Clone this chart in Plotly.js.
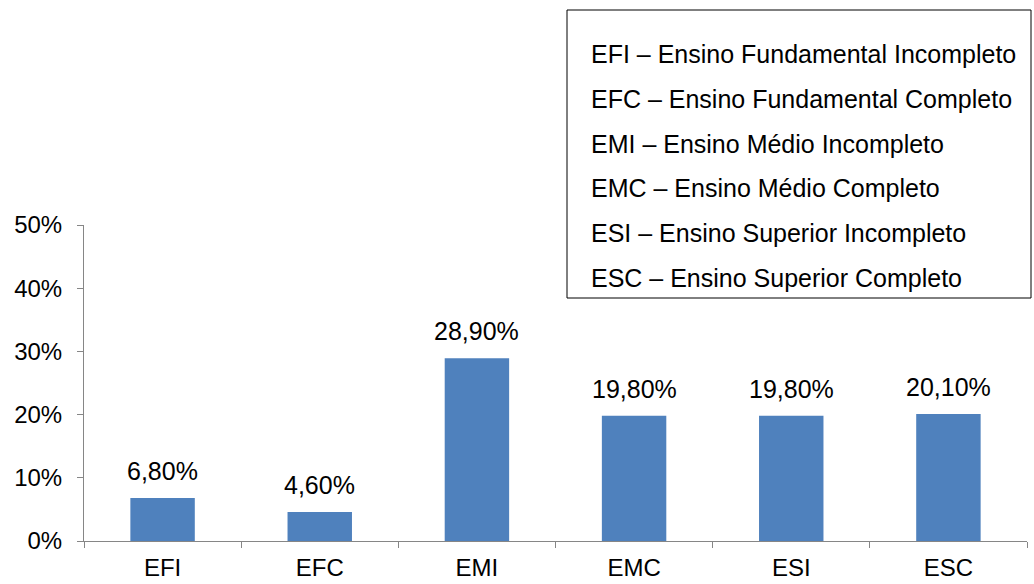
<!DOCTYPE html>
<html>
<head>
<meta charset="utf-8">
<script src="https://cdn.plot.ly/plotly-3.0.1.min.js"></script>
<style>html,body{margin:0;padding:0;background:#fff;}#chart{width:1034px;height:584px;}</style>
</head>
<body>
<div id="chart"></div>
<script>
const categories = ["EFI", "EFC", "EMI", "EMC", "ESI", "ESC"];
const values = [0.068, 0.046, 0.289, 0.198, 0.198, 0.201];
const valueLabels = ["6,80%", "4,60%", "28,90%", "19,80%", "19,80%", "20,10%"];
const yTickVals = [0, 0.1, 0.2, 0.3, 0.4, 0.5];
const yTickText = ["0%", "10%", "20%", "30%", "40%", "50%"];
const legendLines = [
  "EFI – Ensino Fundamental Incompleto",
  "EFC – Ensino Fundamental Completo",
  "EMI – Ensino Médio Incompleto",
  "EMC – Ensino Médio Completo",
  "ESI – Ensino Superior Incompleto",
  "ESC – Ensino Superior Completo"
];

const W = 1034, H = 584;
const M = {l: 84, r: 7, t: 225, b: 43};
const pw = W - M.l - M.r, ph = H - M.t - M.b;
const px2x = p => (p - M.l) / pw;
const py2y = p => (H - M.b - p) / ph;
const FONT = "Arial, 'Liberation Sans', sans-serif";

const annotations = categories.map((c, i) => ({
  x: c, y: values[i], xref: 'x', yref: 'y',
  text: valueLabels[i], showarrow: false,
  yanchor: 'bottom', xanchor: 'center', yshift: 11,
  font: {family: FONT, size: 25, color: '#000'}
}));
legendLines.forEach((t, i) => {
  annotations.push({
    x: px2x(589), y: py2y(54 + 44.8 * i), xref: 'paper', yref: 'paper',
    text: t, showarrow: false, xanchor: 'left', yanchor: 'middle',
    font: {family: FONT, size: 25, color: '#000'}
  });
});

const trace = {
  type: 'bar', x: categories, y: values, width: 0.41,
  marker: {color: '#4F81BD'}, hoverinfo: 'none'
};

const layout = {
  width: W, height: H,
  margin: M,
  paper_bgcolor: '#fff', plot_bgcolor: '#fff',
  showlegend: false,
  font: {family: FONT, size: 24, color: '#000'},
  xaxis: {
    type: 'category', range: [-0.5, 5.5],
    showline: true, linecolor: '#868686', linewidth: 1,
    ticks: 'outside', tickson: 'boundaries', ticklen: 6, tickcolor: '#868686',
    showgrid: false, zeroline: false, fixedrange: true,
    ticklabelstandoff: 5,
    tickfont: {family: FONT, size: 24, color: '#000'}
  },
  yaxis: {
    range: [0, 0.5], tickvals: yTickVals, ticktext: yTickText,
    showline: true, linecolor: '#868686', linewidth: 1,
    ticks: 'outside', ticklen: 6, tickcolor: '#868686',
    showgrid: false, zeroline: false, fixedrange: true,
    ticklabelstandoff: 10,
    tickfont: {family: FONT, size: 24, color: '#000'}
  },
  shapes: [{
    type: 'rect', xref: 'paper', yref: 'paper',
    x0: px2x(567), x1: px2x(1031), y0: py2y(298), y1: py2y(10),
    line: {color: '#000', width: 1}, fillcolor: 'rgba(0,0,0,0)'
  }],
  annotations: annotations
};

Plotly.newPlot('chart', [trace], layout, {staticPlot: true, displayModeBar: false});
</script>
</body>
</html>
